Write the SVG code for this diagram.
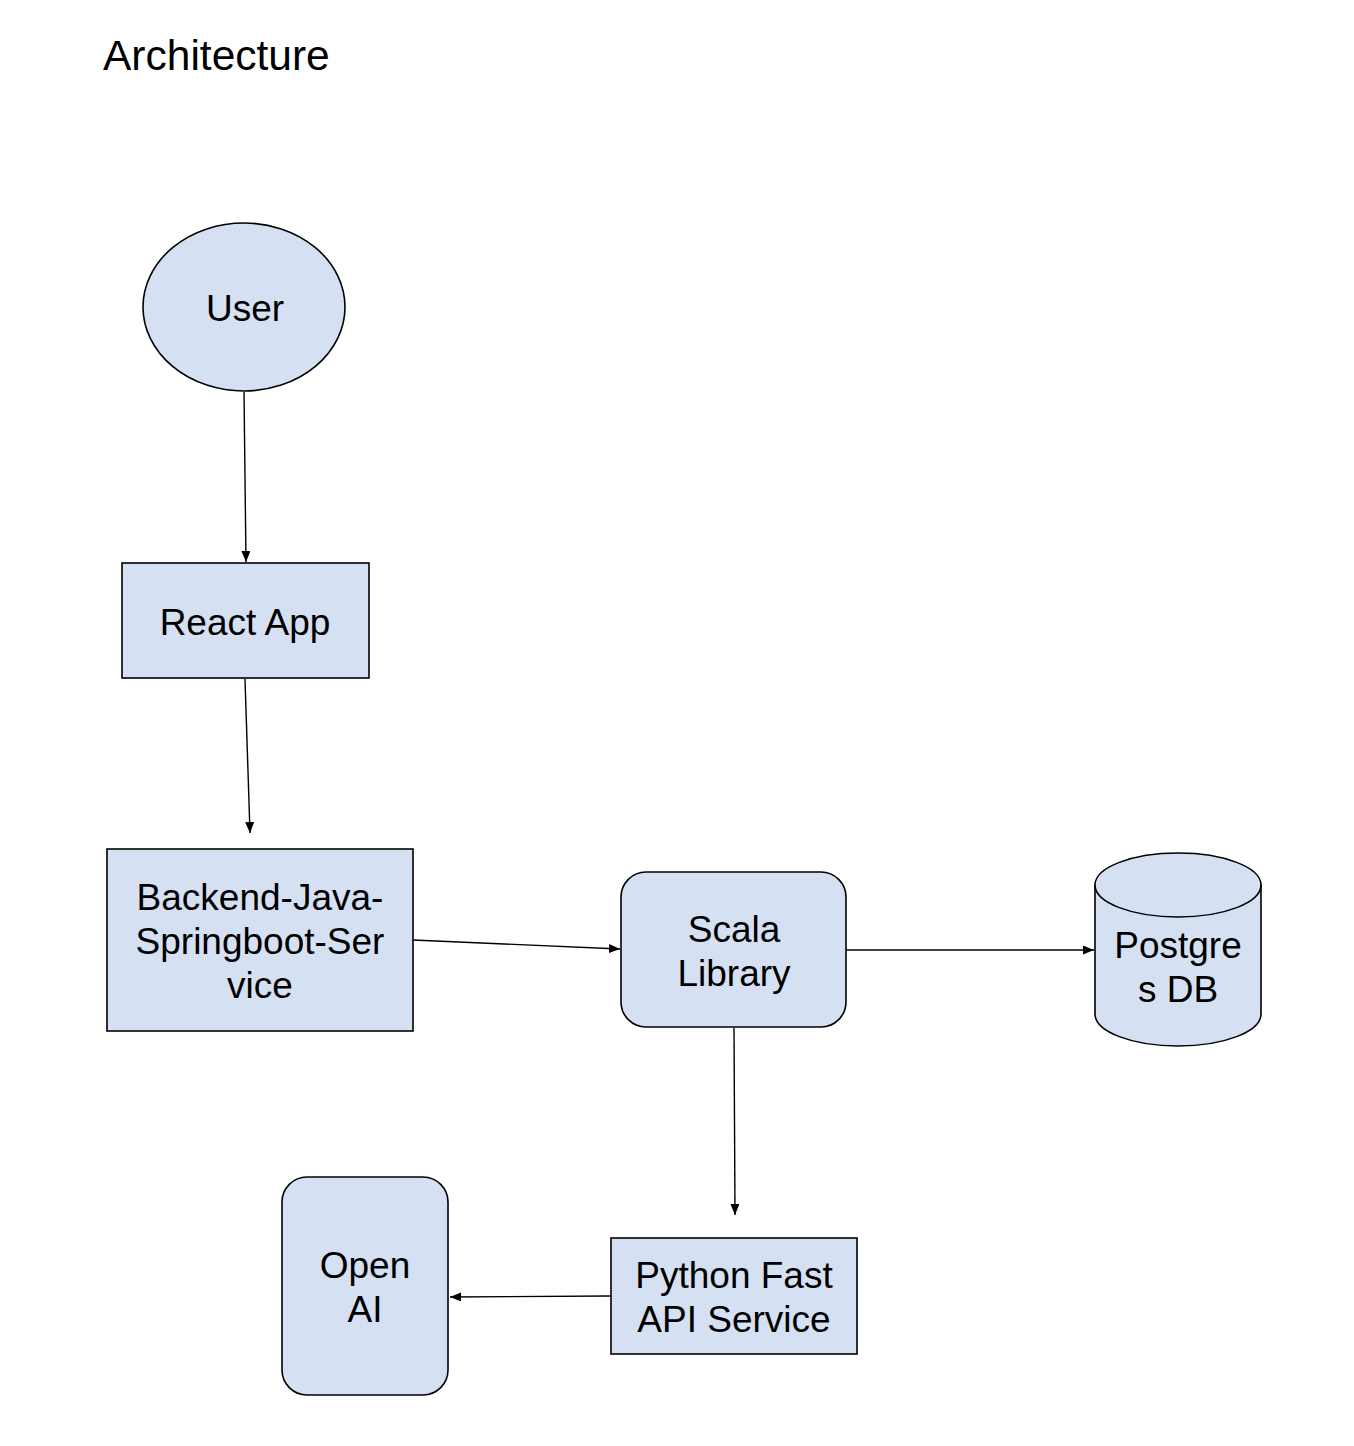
<svg xmlns="http://www.w3.org/2000/svg" width="1354" height="1446" viewBox="0 0 1354 1446">
<style>
.n{fill:#d5e1f3;stroke:#000;stroke-width:1.6}
.t{font-family:"Liberation Sans",Arial,sans-serif;font-size:37px;fill:#000;text-anchor:middle}
.c{stroke:#000;stroke-width:1.4;fill:none;marker-end:url(#ah)}
</style>
<defs>
<marker id="ah" viewBox="0 0 11 9" refX="11" refY="4.5" markerWidth="11" markerHeight="9" markerUnits="userSpaceOnUse" orient="auto">
<path d="M0,0 L11,4.5 L0,9 Z" fill="#000"/>
</marker>
</defs>
<rect width="1354" height="1446" fill="#fff"/>
<text x="103" y="70" style="font-family:'Liberation Sans',Arial,sans-serif;font-size:42.5px;fill:#000">Architecture</text>
<g id="connectors">
<line class="c" x1="244" y1="392" x2="246" y2="562"/>
<line class="c" x1="245" y1="679" x2="250" y2="833"/>
<line class="c" x1="413" y1="940" x2="620" y2="949"/>
<line class="c" x1="846" y1="950" x2="1094" y2="950"/>
<line class="c" x1="734" y1="1028" x2="735" y2="1215"/>
<line class="c" x1="610" y1="1296" x2="450" y2="1297"/>
</g>
<g id="user">
<ellipse class="n" cx="244" cy="307" rx="101" ry="84"/>
<text class="t" x="245" y="321">User</text>
</g>
<g id="react">
<rect class="n" x="122" y="563" width="247" height="115"/>
<text class="t" x="245" y="635">React App</text>
</g>
<g id="backend">
<rect class="n" x="107" y="849" width="306" height="182"/>
<text class="t" x="260" y="910">Backend-Java-</text>
<text class="t" x="260" y="954">Springboot-Ser</text>
<text class="t" x="260" y="998">vice</text>
</g>
<g id="scala">
<rect class="n" x="621" y="872" width="225" height="155" rx="25" ry="25"/>
<text class="t" x="734" y="942">Scala</text>
<text class="t" x="734" y="986">Library</text>
</g>
<g id="postgres">
<path class="n" d="M1095,885 A83,32 0 0 1 1261,885 L1261,1014 A83,32 0 0 1 1095,1014 Z"/>
<path d="M1095,885 A83,32 0 0 0 1261,885" fill="none" stroke="#000" stroke-width="1.6"/>
<text class="t" x="1178" y="958">Postgre</text>
<text class="t" x="1178" y="1002">s DB</text>
</g>
<g id="python">
<rect class="n" x="611" y="1238" width="246" height="116"/>
<text class="t" x="734" y="1288">Python Fast</text>
<text class="t" x="734" y="1332">API Service</text>
</g>
<g id="openai">
<rect class="n" x="282" y="1177" width="166" height="218" rx="25" ry="25"/>
<text class="t" x="365" y="1278">Open</text>
<text class="t" x="365" y="1322">AI</text>
</g>
</svg>
